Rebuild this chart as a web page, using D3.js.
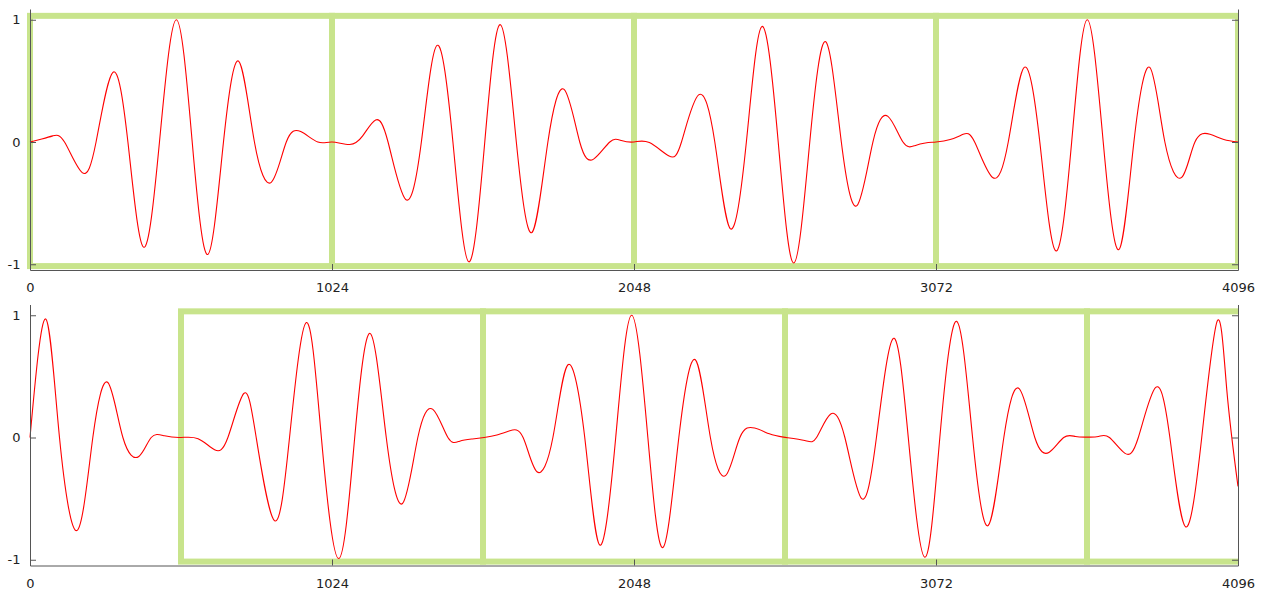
<!DOCTYPE html>
<html>
<head>
<meta charset="utf-8">
<script src="https://cdn.jsdelivr.net/npm/d3@7"></script>
<style>
  html, body { margin: 0; padding: 0; background: #fff; }
  svg { display: block; }
</style>
</head>
<body>
<svg id="chart" width="1270" height="590"></svg>
<script>
// ---- data ----
const xTicks = [0, 1024, 2048, 3072, 4096];
const yTicks = [-1, 0, 1];
const xDomain = [0, 4096];
const yDomain = [-1.047, 1.088];

// frame boxes (start sample of each 1024-sample frame, and vertical extent)
const frameLength = 1024;
const topFrameStarts = [0, 1024, 2048, 3072];
const bottomFrameStarts = [512, 1536, 2560, 3584];
const frameYExtent = [-1.015, 1.032];

// top signal: sample positions and values
const topX = [0, 40, 77, 117, 177, 224, 281, 332, 385, 439, 496, 550, 603, 656, 708, 761, 818, 869, 918, 976, 1024,
  1084, 1128, 1172, 1214, 1274, 1327, 1380, 1434, 1488, 1542, 1595, 1649, 1702, 1756, 1811, 1864, 1911, 1966, 2005, 2048,
  2100, 2167, 2209, 2267, 2322, 2375, 2429, 2482, 2537, 2590, 2644, 2698, 2751, 2804, 2858, 2909, 2960, 3000, 3036, 3072,
  3120, 3164, 3203, 3264, 3317, 3371, 3424, 3478, 3532, 3585, 3639, 3692, 3743, 3797, 3848, 3905, 3950, 4001, 4048, 4096];
const topY = [0, 0.025, 0.05, 0, -0.25, 0, 0.57, 0, -0.86, 0, 1.0, 0, -0.92, 0, 0.66, 0, -0.33, 0, 0.085, 0, 0,
  -0.02, 0.05, 0.18, 0, -0.47, 0, 0.79, 0, -0.98, 0, 0.96, 0, -0.74, 0, 0.43, 0, -0.14, 0, 0.012, 0,
  -0.005, -0.115, 0, 0.385, 0, -0.71, 0, 0.945, 0, -0.99, 0, 0.82, 0, -0.52, 0, 0.21, 0, -0.03, -0.008, 0,
  0.02, 0.063, 0, -0.29, 0, 0.61, 0, -0.89, 0, 1.0, 0, -0.88, 0, 0.61, 0, -0.29, 0, 0.063, 0.02, 0];

// bottom signal
const bottomX = [0, 53, 100, 160, 213, 264, 315, 369, 411, 456, 512, 570, 626, 671, 725, 767, 829, 880, 937, 988,
  1047, 1101, 1154, 1208, 1263, 1315, 1366, 1417, 1457, 1500, 1540, 1583, 1627, 1672, 1719, 1773, 1824, 1881, 1932, 1986, 2040,
  2095, 2146, 2200, 2256, 2307, 2359, 2407, 2457, 2507, 2555, 2627, 2667, 2714, 2763, 2820, 2870, 2927, 2978, 3034, 3085,
  3142, 3196, 3249, 3302, 3354, 3407, 3456, 3505, 3545, 3584, 3623, 3660, 3713, 3758, 3817, 3865, 3918, 3973, 4026, 4058, 4096];
const bottomY = [0, 0.97, 0, -0.76, 0, 0.45, 0, -0.155, 0, 0.014, 0, -0.01, -0.10, 0, 0.36, 0, -0.68, 0, 0.94, 0,
  -0.99, 0, 0.85, 0, -0.54, 0, 0.23, 0, -0.03, -0.012, 0, 0.02, 0.055, 0, -0.28, 0, 0.595, 0, -0.88, 0, 1.0,
  0, -0.90, 0, 0.636, 0, -0.31, 0, 0.077, 0.03, 0.003, -0.025, 0, 0.19, 0, -0.50, 0, 0.81, 0, -0.98, 0,
  0.95, 0, -0.72, 0, 0.40, 0, -0.12, 0, 0.008, 0.003, 0.008, 0, -0.13, 0, 0.41, 0, -0.73, 0, 0.955, 0.39, -0.40];

// ---- drawing ----
const svg = d3.select("#chart");
const plotLeft = 30, plotRight = 1238;
const x = d3.scaleLinear().domain(xDomain).range([plotLeft, plotRight]);

const panels = [
  { xs: topX, ys: topY, frames: topFrameStarts, top: 9, bottom: 270 },
  { xs: bottomX, ys: bottomY, frames: bottomFrameStarts, top: 304.5, bottom: 565.5 }
];

const defs = svg.append("defs");

panels.forEach((p, i) => {
  const y = d3.scaleLinear().domain(yDomain).range([p.bottom, p.top]);
  const g = svg.append("g");

  defs.append("clipPath").attr("id", "clip" + i)
    .append("rect")
    .attr("x", 0).attr("y", p.top - 10)
    .attr("width", plotRight + 0.5).attr("height", p.bottom - p.top + 20);

  // green frame boxes
  g.append("g").attr("clip-path", "url(#clip" + i + ")")
    .selectAll("rect").data(p.frames).join("rect")
    .attr("x", d => x(d))
    .attr("y", y(frameYExtent[1]))
    .attr("width", d => x(d + frameLength) - x(d))
    .attr("height", y(frameYExtent[0]) - y(frameYExtent[1]))
    .attr("fill", "none")
    .attr("stroke", "#c8e48c")
    .attr("stroke-width", 6)
    .attr("stroke-linejoin", "miter");

  // red signal
  const pts = p.xs.map((v, k) => [v, p.ys[k]]);
  const line = d3.line().x(d => x(d[0])).y(d => y(d[1])).curve(d3.curveNatural);
  g.append("path").datum(pts)
    .attr("d", line)
    .attr("fill", "none")
    .attr("stroke", "#ff0000")
    .attr("stroke-width", 1.1);

  // axes
  const styleAxis = sel => {
    sel.selectAll(".domain").attr("stroke", "#555");
    sel.selectAll(".tick line").attr("stroke", "#555");
    sel.selectAll("text").attr("fill", "#222")
      .style("font-family", "'DejaVu Sans', sans-serif").style("font-size", "13px");
  };
  const fmt = d => String(d);

  g.append("g").attr("transform", `translate(0,${p.bottom})`)
    .call(d3.axisBottom(x).tickValues(xTicks).tickSizeInner(-6).tickSizeOuter(0).tickPadding(13).tickFormat(fmt))
    .call(styleAxis);

  g.append("g").attr("transform", `translate(${plotLeft},0)`)
    .call(d3.axisLeft(y).tickValues(yTicks).tickSizeInner(-6).tickSizeOuter(0).tickPadding(9.5).tickFormat(fmt))
    .call(styleAxis);

  g.append("g").attr("transform", `translate(${plotRight},0)`)
    .call(d3.axisRight(y).tickValues(yTicks).tickSizeInner(-6).tickSizeOuter(0).tickFormat(""))
    .call(styleAxis);
});
</script>
</body>
</html>
